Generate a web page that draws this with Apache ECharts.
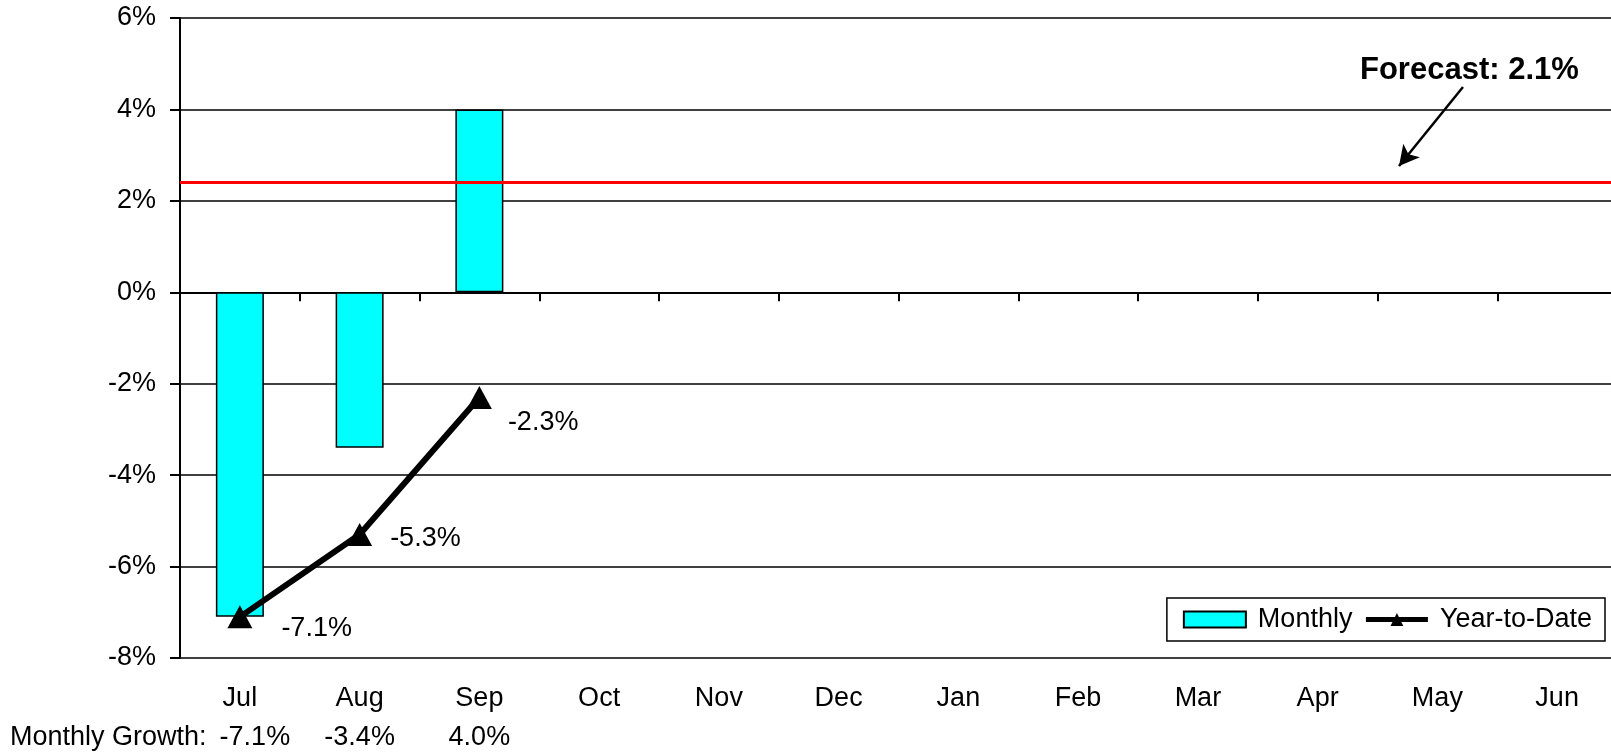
<!DOCTYPE html>
<html>
<head>
<meta charset="utf-8">
<script src="https://cdn.jsdelivr.net/npm/echarts@6/dist/echarts.min.js"></script>
<style>
  html, body { margin: 0; padding: 0; background: #fff; }
  #chart { width: 1611px; height: 753px; }
</style>
</head>
<body>
<div id="chart"></div>
<script>
const months = ['Jul', 'Aug', 'Sep', 'Oct', 'Nov', 'Dec', 'Jan', 'Feb', 'Mar', 'Apr', 'May', 'Jun'];
const monthly = [-7.1, -3.4, 4.0];
const yearToDate = [-7.1, -5.3, -2.3];
const forecastRate = 2.1;
const forecastLevel = 2.4;
const yTicks = { min: -8, max: 6, step: 2 };

const FONT = '"Liberation Sans", Arial, sans-serif';
const fmtPct = v => v.toFixed(1) + '%';

const chart = echarts.init(document.getElementById('chart'), null, { renderer: 'canvas' });

// label nudges so the YTD values sit like the original Excel labels
const ytdLabelNudge = [[24, 12], [13, 4], [11, 25]];

const option = {
  animation: false,
  backgroundColor: '#ffffff',
  textStyle: { fontFamily: FONT, color: '#000' },
  grid: { left: 180, right: -6, top: 18, bottom: 95, outerBoundsMode: 'none', containLabel: false },
  legend: {
    right: 6,
    top: 598,
    orient: 'horizontal',
    padding: [8, 13, 8, 16],
    itemGap: 11,
    itemWidth: 62,
    itemHeight: 16,
    borderColor: '#000',
    borderWidth: 1.5,
    backgroundColor: '#fff',
    lineStyle: { width: 5 },
    textStyle: { fontSize: 27, color: '#000', fontFamily: FONT, padding: [0, 0, 0, 7] },
    data: [
      { name: 'Monthly', icon: 'rect' },
      { name: 'Year-to-Date' }
    ]
  },
  xAxis: [
    {
      type: 'category',
      data: months,
      position: 'bottom',
      axisLine: { show: false, onZero: false },
      axisTick: { show: false },
      axisLabel: {
        margin: 21,
        fontSize: 27,
        lineHeight: 39,
        color: '#000',
        fontFamily: FONT,
        interval: 0,
        formatter: (name, i) => {
          if (monthly[i] === undefined) return name;
          return name + '\n{' + (i === 0 ? 'g0' : 'g') + '|' + fmtPct(monthly[i]) + '}';
        },
        rich: {
          g: { fontSize: 27, lineHeight: 39, color: '#000', fontFamily: FONT },
          g0: { fontSize: 27, lineHeight: 39, color: '#000', fontFamily: FONT, padding: [0, 0, 0, 30] }
        }
      },
      splitLine: { show: false }
    },
    {
      type: 'category',
      data: months,
      position: 'bottom',
      axisLine: { show: true, onZero: true, lineStyle: { color: '#000', width: 2 } },
      axisTick: { show: true, length: 9, lineStyle: { color: '#000', width: 2 } },
      axisLabel: { show: false },
      splitLine: { show: false }
    }
  ],
  yAxis: {
    type: 'value',
    min: yTicks.min,
    max: yTicks.max,
    interval: yTicks.step,
    axisLine: { show: true, lineStyle: { color: '#000', width: 2 } },
    axisTick: { show: true, length: 10, lineStyle: { color: '#000', width: 2 } },
    axisLabel: {
      margin: 24,
      fontSize: 27,
      color: '#000',
      fontFamily: FONT,
      formatter: '{value}%'
    },
    splitLine: { show: true, lineStyle: { color: '#000', width: 1.5 } }
  },
  series: [
    {
      name: 'Monthly',
      type: 'bar',
      xAxisIndex: 0,
      data: monthly,
      barWidth: 48,
      itemStyle: { color: '#00ffff', borderColor: '#000', borderWidth: 1.5 },
      z: 2,
      markLine: {
        silent: true,
        symbol: 'none',
        label: { show: false },
        lineStyle: { color: '#ff0000', width: 3, type: 'solid' },
        data: [{ yAxis: forecastLevel }]
      }
    },
    {
      name: 'Year-to-Date',
      type: 'line',
      xAxisIndex: 0,
      data: yearToDate.map((v, i) => ({ value: v, label: { offset: ytdLabelNudge[i] } })),
      symbol: 'triangle',
      symbolSize: [25, 23],
      itemStyle: { color: '#000' },
      lineStyle: { color: '#000', width: 6 },
      z: 5,
      label: {
        show: true,
        position: 'right',
        fontSize: 27,
        color: '#000',
        fontFamily: FONT,
        formatter: p => fmtPct(p.value)
      },
      markLine: {
        silent: true,
        symbol: ['none', 'arrow'],
        symbolSize: [16, 20],
        label: { show: false },
        lineStyle: { color: '#000', width: 2.5, type: 'solid' },
        data: [[{ x: 1463, y: 87 }, { x: 1399, y: 166 }]]
      }
    }
  ],
  graphic: [
    {
      type: 'text',
      style: {
        x: 1360, y: 70,
        text: 'Forecast: ' + forecastRate.toFixed(1) + '%',
        font: 'bold 31px ' + FONT,
        fill: '#000',
        textAlign: 'left',
        textVerticalAlign: 'middle'
      }
    },
    {
      type: 'text',
      style: {
        x: 10, y: 738,
        text: 'Monthly Growth:',
        font: '27px ' + FONT,
        fill: '#000',
        textAlign: 'left',
        textVerticalAlign: 'middle'
      }
    }
  ]
};

chart.setOption(option);
</script>
</body>
</html>
